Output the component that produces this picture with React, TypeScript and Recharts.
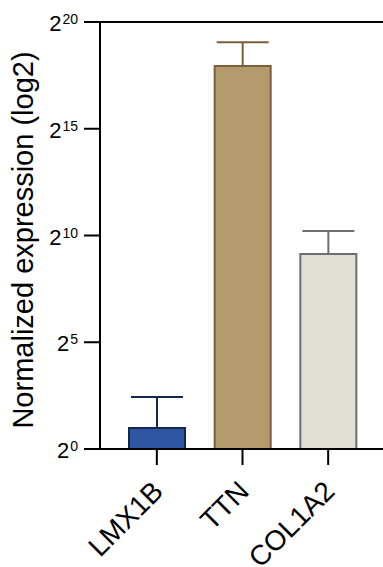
import React from 'react';
import { BarChart, Bar, Cell, XAxis, YAxis, ErrorBar, ReferenceLine, Label } from 'recharts';

const genes = ['LMX1B', 'TTN', 'COL1A2'];
const log2Expression = [0.98, 17.94, 9.13];
const errorUp = [1.46, 1.11, 1.08];
const yTicks = [0, 5, 10, 15, 20];

const fills = ['#2E56A3', '#B39B6E', '#E1DED4'];
const strokes = ['#15274F', '#7A5F38', '#6E6E6E'];

const FONT = '"Liberation Sans", Arial, sans-serif';

// one error column per gene so each error bar can take its own colour
const chartData = genes.map((gene, i) => {
  const row: any = { gene, value: log2Expression[i] };
  genes.forEach((_, j) => {
    row[`err${j}`] = i === j ? [0, errorUp[i]] : null;
  });
  return row;
});

const YTick = ({ x, y, payload }: any) => (
  <text x={x} y={y + 9} textAnchor="end" fontFamily={FONT} fill="#000">
    <tspan fontSize={22}>2</tspan>
    <tspan fontSize={14} dx={1} dy={-7}>{payload.value}</tspan>
  </text>
);

const XTick = ({ x, y, payload }: any) => {
  const ax = x + 8;
  const ay = y + 26;
  return (
    <text
      x={ax}
      y={ay}
      textAnchor="end"
      fontFamily={FONT}
      fontSize={28}
      fill="#000"
      transform={`rotate(-45, ${ax}, ${ay})`}
    >
      {payload.value}
    </text>
  );
};

const YTitle = () => (
  <text
    x={33}
    y={240}
    textAnchor="middle"
    fontFamily={FONT}
    fontSize={29}
    fill="#000"
    transform="rotate(-90, 33, 240)"
  >
    Normalized expression (log2)
  </text>
);

export default function App() {
  return (
    <div style={{ position: 'absolute', left: 0, top: 0, background: '#fff' }}>
      <BarChart
        width={383}
        height={567}
        data={chartData}
        margin={{ top: 22, right: 0, bottom: 0, left: 0 }}
      >
        <XAxis
          dataKey="gene"
          height={118}
          padding={{ left: 14, right: 12 }}
          axisLine={{ stroke: '#000', strokeWidth: 2 }}
          tickLine={{ stroke: '#000', strokeWidth: 2 }}
          tickSize={16}
          tickMargin={2}
          tick={<XTick />}
          interval={0}
        />
        <YAxis
          width={100}
          domain={[0, 20]}
          ticks={yTicks}
          allowDataOverflow
          axisLine={{ stroke: '#000', strokeWidth: 2 }}
          tickLine={{ stroke: '#000', strokeWidth: 2 }}
          tickSize={16}
          tickMargin={6}
          tick={<YTick />}
        >
          <Label content={<YTitle />} />
        </YAxis>
        <ReferenceLine y={20} stroke="#000" strokeWidth={2} />
        <Bar dataKey="value" barSize={56} strokeWidth={2} isAnimationActive={false}>
          {chartData.map((d, i) => (
            <Cell key={d.gene} fill={fills[i]} stroke={strokes[i]} />
          ))}
          {genes.map((g, j) => (
            <ErrorBar
              key={g}
              dataKey={`err${j}`}
              direction="y"
              width={26}
              stroke={strokes[j]}
              strokeWidth={2}
              isAnimationActive={false}
            />
          ))}
        </Bar>
      </BarChart>
    </div>
  );
}
